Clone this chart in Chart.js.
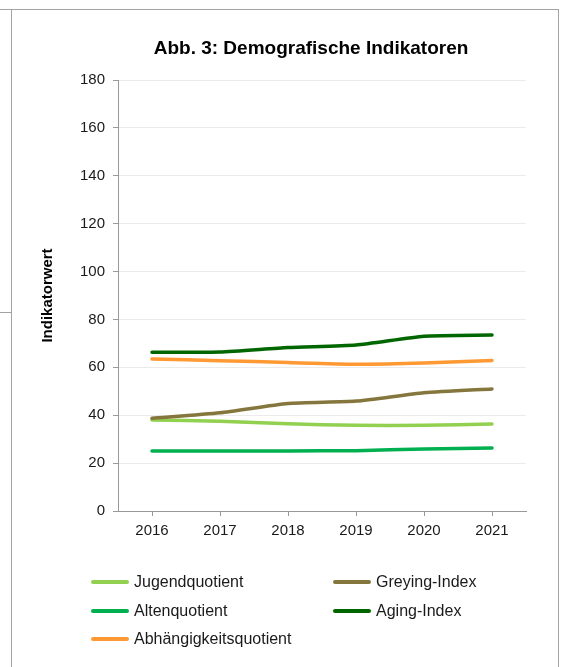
<!DOCTYPE html>
<html lang="de">
<head>
<meta charset="utf-8">
<title>Demografische Indikatoren</title>
<script src="https://cdn.jsdelivr.net/npm/chart.js@4.4.1/dist/chart.umd.min.js"></script>
<style>
  html, body { margin: 0; padding: 0; background: #fff; }
  #wrap { position: relative; width: 562px; height: 667px; overflow: hidden; }
  #chart { position: absolute; left: 0; top: 0; }
  .frame { position: absolute; background: #a3a3a3; }
  #legend {
    position: absolute; left: 91px; top: 568px;
    display: grid; grid-template-columns: 242px 200px;
    font-family: "Liberation Sans", Arial, sans-serif; font-size: 16px; color: #1a1a1a;
  }
  .item { display: flex; align-items: center; height: 28.5px; white-space: nowrap; }
  .swatch { width: 38px; height: 4px; border-radius: 2px; margin-right: 5px; }
</style>
</head>
<body>
<div id="wrap">
  <canvas id="chart" width="562" height="667"></canvas>
  <div class="frame" style="left:0;top:9px;width:559px;height:1px"></div>
  <div class="frame" style="left:11px;top:9px;width:1px;height:658px"></div>
  <div class="frame" style="left:558px;top:9px;width:1px;height:658px"></div>
  <div class="frame" style="left:0;top:312px;width:11px;height:1px"></div>
  <div id="legend"></div>
</div>
<script>
// data
const years = ['2016', '2017', '2018', '2019', '2020', '2021'];
const jugendquotient = [38.0, 37.5, 36.4, 35.8, 35.8, 36.3];
const altenquotient = [25.1, 25.1, 25.1, 25.2, 25.9, 26.3];
const abhaengigkeit = [63.5, 62.8, 62.0, 61.3, 61.8, 62.9];
const greyingIndex = [38.7, 41.0, 44.9, 45.9, 49.4, 51.0];
const agingIndex = [66.3, 66.4, 68.3, 69.3, 73.0, 73.5];

const titleText = 'Abb. 3: Demografische Indikatoren';
const font = '"Liberation Sans", Arial, sans-serif';

const colors = {
    jugend: '#92d050',
    alten: '#00b050',
    abh: '#ff9933',
    greying: '#84763c',
    aging: '#006600'
};

function line(label, data, color) {
    return {
        label: label,
        data: data,
        borderColor: color,
        backgroundColor: color,
        borderWidth: 3.5,
        pointRadius: 0,
        tension: 0.2,
        borderCapStyle: 'round',
        borderJoinStyle: 'round',
        fill: false
    };
}

// first dataset is drawn on top
const datasets = [
    line('Aging-Index', agingIndex, colors.aging),
    line('Greying-Index', greyingIndex, colors.greying),
    line('Abhängigkeitsquotient', abhaengigkeit, colors.abh),
    line('Jugendquotient', jugendquotient, colors.jugend),
    line('Altenquotient', altenquotient, colors.alten)
];

// title centred a bit left of the plot area, like the original
const titlePlugin = {
    id: 'chartTitle',
    afterDraw(chart) {
        const ctx = chart.ctx;
        const area = chart.chartArea;
        ctx.save();
        ctx.font = 'bold 19px ' + font;
        ctx.fillStyle = '#000';
        ctx.textAlign = 'center';
        ctx.textBaseline = 'middle';
        ctx.fillText(titleText, (area.left + area.right) / 2 - 11, area.top - 31);
        ctx.restore();
    }
};

new Chart(document.getElementById('chart'), {
    type: 'line',
    data: { labels: years, datasets: datasets },
    plugins: [titlePlugin],
    options: {
        responsive: false,
        animation: false,
        devicePixelRatio: 1,
        layout: { padding: { left: 35, right: 36, top: 80, bottom: 116 } },
        plugins: {
            legend: { display: false },
            tooltip: { enabled: false },
            title: { display: false }
        },
        scales: {
            x: {
                offset: true,
                grid: { drawOnChartArea: false, drawTicks: true, tickLength: 5, tickColor: '#999' },
                border: { color: '#999' },
                ticks: { color: '#1a1a1a', font: { family: font, size: 15 }, padding: 6, maxRotation: 0 },
                afterFit(s) { s.height = 40; }
            },
            y: {
                min: 0,
                max: 180,
                ticks: { stepSize: 20, color: '#1a1a1a', font: { family: font, size: 15 }, padding: 8 },
                grid: { color: '#ebebeb', tickColor: '#999', tickLength: 5 },
                border: { color: '#999' },
                title: {
                    display: true,
                    text: 'Indikatorwert',
                    color: '#000',
                    font: { family: font, size: 15, weight: 'bold' },
                    padding: { top: 4, bottom: 4 }
                },
                afterFit(s) { s.width = 83; }
            }
        }
    }
});

// legend in two columns, row by row
const legendOrder = ['Jugendquotient', 'Greying-Index', 'Altenquotient', 'Aging-Index', 'Abhängigkeitsquotient'];
const legendDiv = document.getElementById('legend');
legendOrder.forEach(name => {
    const ds = datasets.find(d => d.label === name);
    const item = document.createElement('div');
    item.className = 'item';
    const sw = document.createElement('span');
    sw.className = 'swatch';
    sw.style.background = ds.borderColor;
    const txt = document.createElement('span');
    txt.textContent = name;
    item.appendChild(sw);
    item.appendChild(txt);
    legendDiv.appendChild(item);
});
</script>
</body>
</html>
